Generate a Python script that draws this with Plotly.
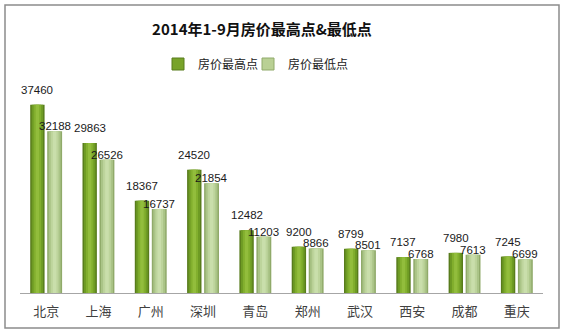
import plotly.graph_objects as go

cities = ["北京", "上海", "广州", "深圳", "青岛", "郑州", "武汉", "西安", "成都", "重庆"]
high_vals = [37460, 29863, 18367, 24520, 12482, 9200, 8799, 7137, 7980, 7245]
low_vals = [32188, 26526, 16737, 21854, 11203, 8866, 8501, 6768, 7613, 6699]
series_names = ["房价最高点", "房价最低点"]
title_text = "2014年1-9月房价最高点&最低点"

W, H = 564, 335
ML, MR, MT, MB = 20, 21, 92, 42
PW, PH = W - ML - MR, H - MT - MB
CAT_PX = PW / len(cities)

# (offset, width) of each series in category units
slots = [(-0.305, 0.275), (0.02, 0.285)]
# cylinder shading layers: (fraction of width, colour) from outer to inner
shades = [
    [(1.0, "#587c1c"), (0.8, "#6e9b24"), (0.52, "#82af2e"), (0.24, "#92bd3c")],
    [(1.0, "#90aa6a"), (0.8, "#aac487"), (0.52, "#bdd49c"), (0.24, "#c9deab")],
]
legend_colors = ["#78a32a", "#b9d094"]
label_lift = [15, 5]  # px above bar top for each series' value labels
legend_ids = ["legend", "legend2"]
legend_left_px = [158, 248]

fig = go.Figure()
for si, vals in enumerate([high_vals, low_vals]):
    off, wid = slots[si]
    centre = off + wid / 2
    for frac, col in shades[si]:
        w = wid * frac
        fig.add_trace(go.Bar(
            x=cities, y=vals,
            width=[w] * len(cities), offset=[centre - w / 2] * len(cities),
            marker=dict(color=col, line=dict(width=0)),
            name=series_names[si], showlegend=False, hoverinfo="skip",
        ))
    # legend entry
    fig.add_trace(go.Bar(
        x=[None], y=[None], name=series_names[si], legend=legend_ids[si],
        marker=dict(color=legend_colors[si],
                    line=dict(color=shades[si][0][1], width=1)),
        showlegend=True,
    ))

# value labels, drawn after all bars
for si, vals in enumerate([high_vals, low_vals]):
    off, wid = slots[si]
    centre = off + wid / 2
    for c, v in zip(cities, vals):
        fig.add_annotation(
            x=c, y=v, text=str(v), showarrow=False,
            xshift=centre * CAT_PX, yshift=label_lift[si],
            yanchor="middle", xanchor="center", borderpad=0,
            font=dict(family="Liberation Sans, Noto Sans CJK SC", size=11.5, color="#1a1a1a"),
        )

def px_x(p):
    return (p - ML) / PW

def px_y(p):
    return (H - MB - p) / PH

fig.add_shape(type="rect", xref="paper", yref="paper",
              x0=px_x(5), x1=px_x(559), y0=px_y(328), y1=px_y(5),
              line=dict(color="#8c8c8c", width=1.5), fillcolor="rgba(0,0,0,0)", layer="below")

legend_style = dict(orientation="h", xanchor="left", y=px_y(64), yanchor="middle",
                    font=dict(family="Noto Sans CJK SC", size=12, color="#222222"),
                    itemwidth=30, bgcolor="rgba(0,0,0,0)")

fig.update_layout(
    width=W, height=H,
    margin=dict(l=ML, r=MR, t=MT, b=MB),
    paper_bgcolor="white", plot_bgcolor="white",
    barmode="overlay",
    title=dict(text=f"<b>{title_text}</b>", x=262 / W, xanchor="center",
               y=1 - 30 / H, yanchor="middle",
               font=dict(family="Noto Sans CJK SC", size=15, color="#111111")),
    legend=dict(x=px_x(legend_left_px[0]), **legend_style),
    legend2=dict(x=px_x(legend_left_px[1]), **legend_style),
    xaxis=dict(type="category", showgrid=False, showline=True, linecolor="#a6a6a6", linewidth=1,
               ticks="outside", ticklen=6, tickcolor="rgba(0,0,0,0)",
               tickfont=dict(family="Noto Sans CJK SC", size=13, color="#404040"),
               range=[-0.5, len(cities) - 0.5]),
    yaxis=dict(range=[0, 40000], visible=False, showgrid=False),
    showlegend=True,
)

fig.write_html("out.html")
